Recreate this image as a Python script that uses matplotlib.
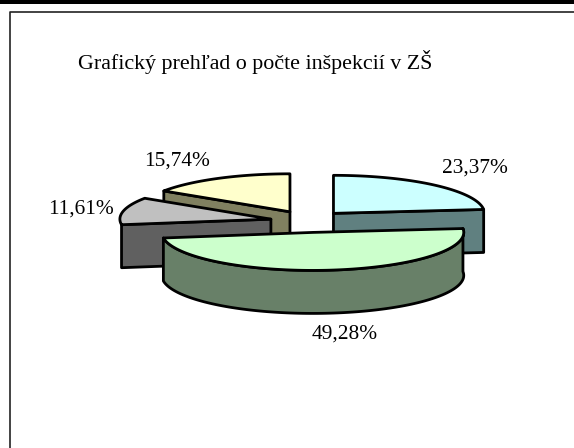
import numpy as np
import matplotlib.pyplot as plt
from matplotlib.patches import Polygon

plt.rcParams['font.family'] = ['Liberation Serif', 'DejaVu Serif']
plt.rcParams['text.kerning_factor'] = 6

# hodnoty z grafu
title = 'Grafický prehľad o počte inšpekcií v ZŠ'
values = [23.37, 49.28, 11.61, 15.74]
labels = ['23,37%', '49,28%', '11,61%', '15,74%']
top_colors = ['#ccffff', '#ccffcc', '#c0c0c0', '#ffffcc']
side_colors = ['#608080', '#688068', '#606060', '#808060']
label_pos = [(474.5, 168), (345, 334), (81, 209), (177.5, 161.5)]

# geometria kolaca v pixeloch
cx, cy = 308, 221.5
rx, ry = 151, 38
depth = 43
explode_x, explode_y = 38, 11
lw = 2.0

fig = plt.figure(figsize=(5.74, 4.48), dpi=100)
ax = fig.add_axes([0, 0, 1, 1])
ax.set_xlim(0, 574)
ax.set_ylim(448, 0)
ax.axis('off')

# ramcek
ax.fill_between([0, 574], 0, 4.5, color='black', lw=0)
ax.plot([9.5, 9.5, 574], [448, 12, 12], color='#222222', lw=1.2)

ax.text(78, 61.5, title, fontsize=15.8, va='center', ha='left', color='black')

# uhly od 12 hodiny v smere hodin
edges = np.radians(np.concatenate([[0], np.cumsum(values)]) / sum(values) * 360)


def rim(a, ox, oy):
    return ox + rx * np.sin(a), oy - ry * np.cos(a)


def draw_slice(i):
    a0, a1 = edges[i], edges[i + 1]
    mid = (a0 + a1) / 2
    ox = cx + explode_x * np.sin(mid)
    oy = cy - explode_y * np.cos(mid)
    t = np.linspace(a0, a1, 120)
    x, y = rim(t, ox, oy)

    # bocna stena: zelena ma obluk, ostatne len rez
    if i == 1:
        xs = np.concatenate([x, x[::-1]])
        ys = np.concatenate([y, y[::-1] + depth])
        side = np.column_stack([xs, ys])
    else:
        ex, ey = rim(a1 if i == 0 else a0, ox, oy)
        side = [(ox, oy), (ex, ey), (ex, ey + depth), (ox, oy + depth)]
    ax.add_patch(Polygon(side, fc=side_colors[i], ec='black', lw=lw, joinstyle='round'))

    top = np.column_stack([np.r_[ox, x], np.r_[oy, y]])
    ax.add_patch(Polygon(top, fc=top_colors[i], ec='black', lw=lw, joinstyle='round'))


for i in [3, 0, 2, 1]:
    draw_slice(i)

for lab, (lx, ly) in zip(labels, label_pos):
    ax.text(lx, ly, lab, fontsize=15.4, ha='center', va='center', color='black')

fig.savefig('out.png', dpi=100)
